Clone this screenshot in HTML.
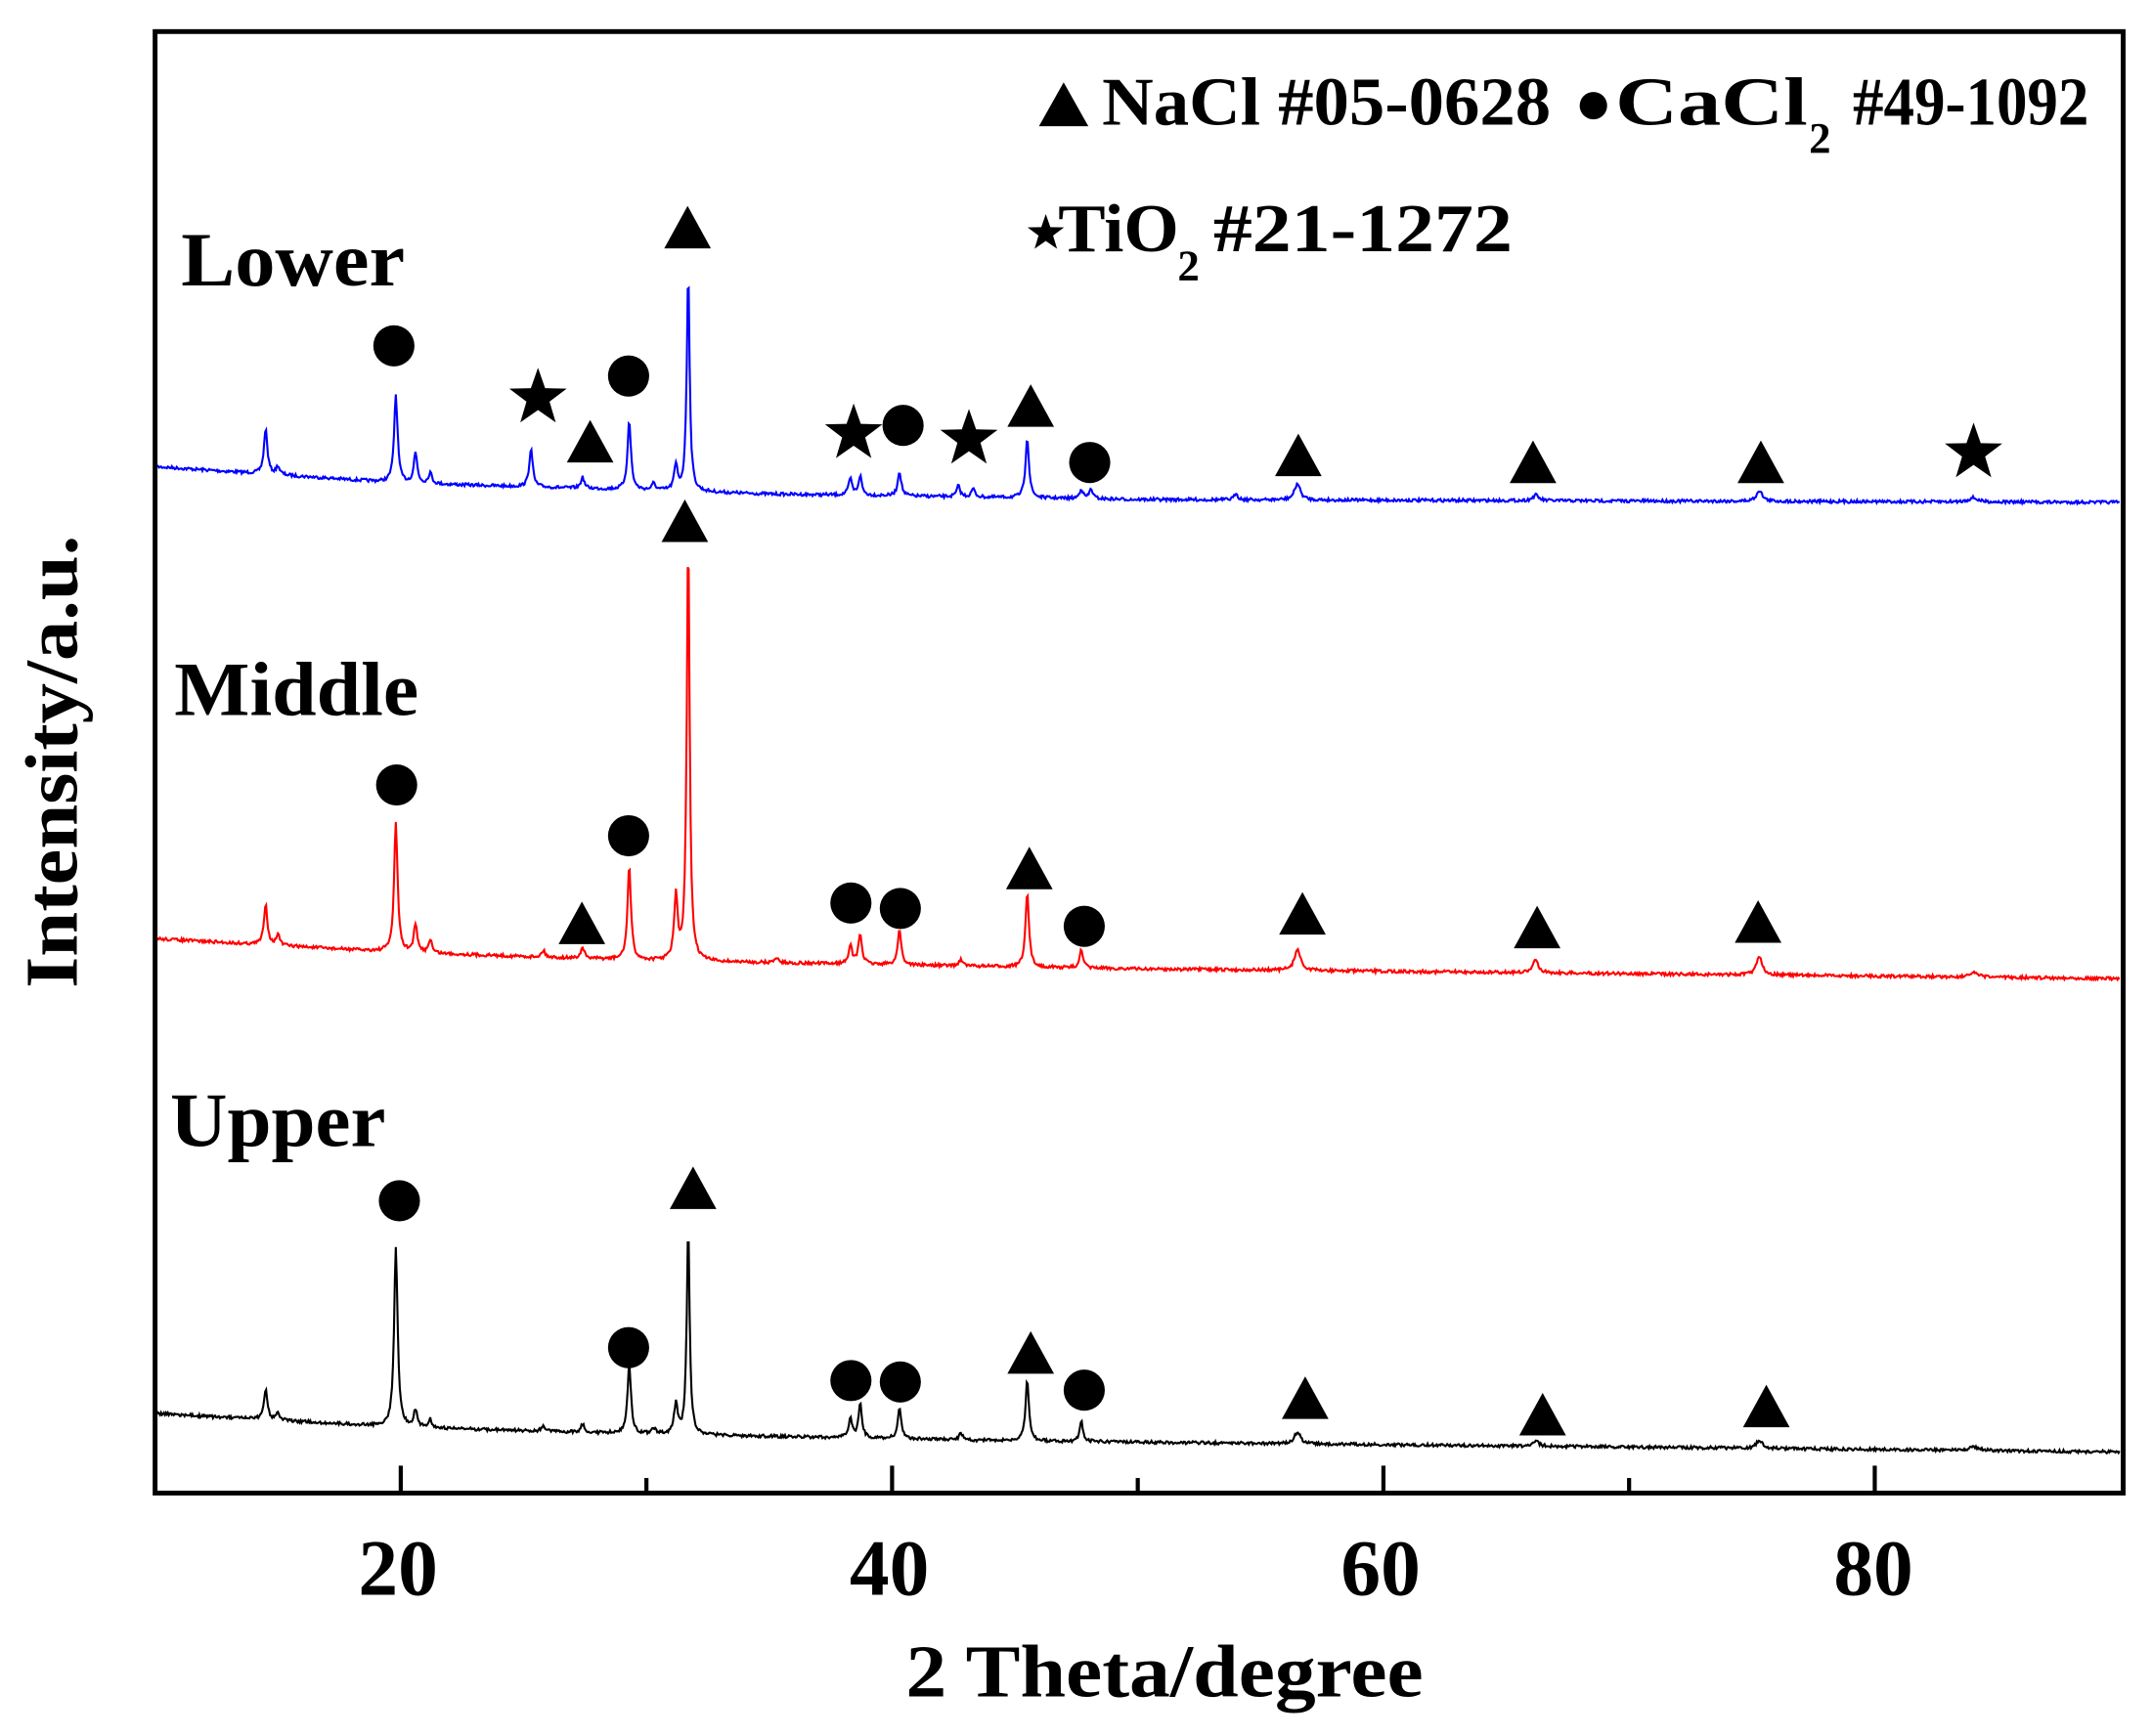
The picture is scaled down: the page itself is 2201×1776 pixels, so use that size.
<!DOCTYPE html>
<html><head><meta charset="utf-8"><style>
html,body{margin:0;padding:0;background:#fff}
svg{display:block}
text{font-family:"Liberation Serif",serif;font-weight:bold;fill:#000}
</style></head><body>
<svg id="s" width="2201" height="1776" viewBox="0 0 1568 1265" preserveAspectRatio="none" xmlns="http://www.w3.org/2000/svg">
<rect x="0" y="0" width="1568" height="1265" fill="#fff"/>
<g id="series"></g>
<g id="marks"></g>
<rect x="113" y="23" width="1434" height="1065" fill="none" stroke="#000" stroke-width="3.5"/>
<g id="ticks" stroke="#000" stroke-width="3"></g>
<text x="290" y="1162" font-size="58" text-anchor="middle">20</text>
<text x="648" y="1162" font-size="58" text-anchor="middle">40</text>
<text x="1006" y="1162" font-size="58" text-anchor="middle">60</text>
<text x="1365" y="1162" font-size="58" text-anchor="middle">80</text>
<text x="660" y="1236" font-size="54" textLength="377" lengthAdjust="spacingAndGlyphs">2 Theta/degree</text>
<text transform="translate(56,720) rotate(-90)" font-size="54" textLength="330" lengthAdjust="spacingAndGlyphs">Intensity/a.u.</text>
<text x="132" y="208" font-size="56" textLength="163" lengthAdjust="spacingAndGlyphs">Lower</text>
<text x="127" y="521" font-size="56" textLength="178" lengthAdjust="spacingAndGlyphs">Middle</text>
<text x="124" y="835" font-size="56" textLength="157" lengthAdjust="spacingAndGlyphs">Upper</text>
<polygon points="757,92 793,92 775,60" fill="#000"/>
<text x="803" y="91" font-size="50" textLength="327" lengthAdjust="spacingAndGlyphs">NaCl #05-0628</text>
<circle cx="1161" cy="77" r="10" fill="#000"/>
<text x="1177" y="91" font-size="50" textLength="140" lengthAdjust="spacingAndGlyphs">CaCl</text>
<text x="1318" y="111" font-size="32">2</text>
<text x="1350" y="91" font-size="50" textLength="172" lengthAdjust="spacingAndGlyphs">#49-1092</text>
<polygon id="legstar" fill="#000" points=""/>
<text x="771" y="183" font-size="50" textLength="88" lengthAdjust="spacingAndGlyphs">TiO</text>
<text x="858" y="204" font-size="32">2</text>
<text x="884" y="183" font-size="50" textLength="218" lengthAdjust="spacingAndGlyphs">#21-1272</text>
</svg>
<script>
var NS="http://www.w3.org/2000/svg";
function X(v){return 113+(v-10)*17.9;}
var tk=document.getElementById('ticks');
for(var v=20;v<90;v+=10){var big=(v%20==0);var l=document.createElementNS(NS,'line');
l.setAttribute('x1',X(v));l.setAttribute('x2',X(v));l.setAttribute('y1',1088);l.setAttribute('y2',1088-(big?20:11));tk.appendChild(l);}
var seed=7;function rnd(){seed=(seed*16807)%2147483647;return seed/2147483647;}
function mk(base,peaks,color){
 var d="";
 for(var v=10;v<=90;v+=0.04){
  var y=base(v);
  for(var i=0;i<peaks.length;i++){var p=peaks[i];var w=(p[2]||0.12)*0.7;var t=(v-p[0])/w;y-=p[1]/(1+t*t);}
  y+= (rnd()-0.5)*2.2;
  d+=(d?"L":"M")+X(v).toFixed(1)+","+y.toFixed(1);
 }
 var pa=document.createElementNS(NS,'path');pa.setAttribute('d',d);pa.setAttribute('fill','none');
 pa.setAttribute('stroke',color);pa.setAttribute('stroke-width','1.5');document.getElementById('series').appendChild(pa);
}
function lin(pts){return function(v){for(var i=1;i<pts.length;i++){if(v<=pts[i][0]){var a=pts[i-1],b=pts[i];return a[1]+(b[1]-a[1])*(v-a[0])/(b[0]-a[0]);}}return pts[pts.length-1][1];};}
mk(lin([[10,340],[20,352],[35,360],[50,364],[90,366]]),[[14.5,33],[15,6],[19.8,64],[20.6,22],[21.2,8],[25.3,28],[27.4,8],[29.3,50],[30.3,5],[31.2,18],[31.7,160,0.1],[38.3,12],[38.7,14],[40.3,18],[42.7,8],[43.3,6],[45.5,44],[47.7,7],[48.1,7],[54,5],[56.5,12,0.2],[66.2,4,0.2],[75.3,8,0.2],[84,3,0.3]],"#0000ff");
mk(lin([[10,684],[20,694],[30,700],[50,706],[90,713]]),[[14.5,30],[15,8],[19.8,94],[20.6,20],[21.2,10],[25.8,5],[27.4,8],[29.3,68],[31.2,46],[31.7,308,0.1],[35.3,4],[38.3,14],[38.7,22],[40.3,26],[42.8,5],[45.5,54],[47.7,13],[56.5,16,0.2],[66.2,9,0.2],[75.3,14,0.2],[84,3,0.3]],"#ff0000");
mk(lin([[10,1030],[20,1040],[30,1045],[45,1050],[90,1058]]),[[14.5,22],[15,6],[19.8,132],[20.6,12],[21.2,6],[25.8,4],[27.4,6],[29.3,50],[30.3,4],[31.2,22],[31.7,152,0.1],[38.3,14],[38.7,25],[40.3,23],[42.8,5],[45.5,45],[47.7,15],[56.5,9,0.2],[66.2,4,0.2],[75.3,6,0.2],[84,3,0.3]],"#000000");
var mg=document.getElementById('marks');
function circ(x,y){var c=document.createElementNS(NS,'circle');c.setAttribute('cx',x);c.setAttribute('cy',y);c.setAttribute('r',15);mg.appendChild(c);}
function tri(x,y){var p=document.createElementNS(NS,'polygon');p.setAttribute('points',(x-17)+","+(y+15)+" "+(x+17)+","+(y+15)+" "+x+","+(y-16));mg.appendChild(p);}
function starPts(x,y,R){var s="";for(var i=0;i<10;i++){var r=i%2?R*0.4:R;var a=-Math.PI/2+i*Math.PI/5;s+=(x+r*Math.cos(a)).toFixed(1)+","+(y+r*Math.sin(a)).toFixed(1)+" ";}return s;}
function star(x,y){var p=document.createElementNS(NS,'polygon');p.setAttribute('points',starPts(x,y,22));mg.appendChild(p);}
document.getElementById('legstar').setAttribute('points',starPts(762,170,14));
[[287,252],[458,274],[658,310],[794,337],[289,572],[458,609],[620,658],[656,662],[790,675],[291,875],[458,982],[620,1006],[656,1007],[790,1013]].forEach(function(p){circ(p[0],p[1]);});
[[430,322],[501,166],[751,296],[946,332],[1117,337],[1283,337],[424,673],[499,380],[750,633],[949,666],[1120,676],[1281,672],[505,866],[751,986],[951,1019],[1124,1031],[1287,1025]].forEach(function(p){tri(p[0],p[1]);});
[[392,290],[622,316],[706,320],[1438,330]].forEach(function(p){star(p[0],p[1]);});
</script>
</body></html>
